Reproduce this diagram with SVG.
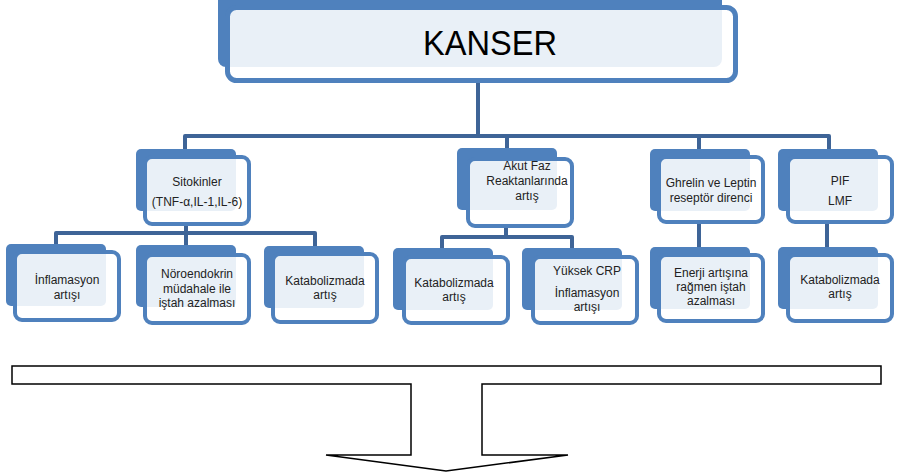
<svg xmlns="http://www.w3.org/2000/svg" width="897" height="476" viewBox="0 0 897 476">
<style>
.back{fill:#4F81BD;}
.front{fill:#FFFFFF;fill-opacity:0.88;stroke:#4F81BD;stroke-width:4;}
.conn{fill:none;stroke:#3E6497;stroke-width:4;stroke-linejoin:round;}
.t{font-family:"Liberation Sans",Arial,sans-serif;font-size:12px;fill:#222222;text-anchor:middle;}
.big{font-family:"Liberation Sans",Arial,sans-serif;font-size:35px;fill:#000000;text-anchor:middle;}
</style>
<rect width="897" height="476" fill="#FFFFFF"/>
<g id="connectors">
<path class="conn" d="M478,83 V136"/>
<path class="conn" d="M185,150 V136 H829 V150"/>
<path class="conn" d="M507,136 V150"/>
<path class="conn" d="M699,136 V150"/>
<path class="conn" d="M186,226 V246"/>
<path class="conn" d="M56,246 V233 H315 V246"/>
<path class="conn" d="M506,228 V237"/>
<path class="conn" d="M442,249 V237 H572 V249"/>
<path class="conn" d="M699,224 V248"/>
<path class="conn" d="M827,224 V248"/>
</g>
<g id="kanser">
<rect class="back" x="218" y="-10" width="504" height="77" rx="8"/>
<rect class="front" x="227.5" y="7.5" width="508" height="73" rx="9" style="stroke-width:5"/>
<text class="big" x="490" y="55" textLength="134" lengthAdjust="spacingAndGlyphs">KANSER</text>
</g>
<g id="sitokinler">
<rect class="back" x="136" y="149" width="100" height="62" rx="5"/>
<rect class="front" x="145" y="157" width="104" height="67" rx="7"/>
<text class="t" x="197" y="186">Sitokinler</text>
<text class="t" x="197" y="206">(TNF-α,IL-1,IL-6)</text>
</g>
<g id="akut">
<rect class="back" x="457" y="148" width="100" height="62" rx="5"/>
<rect class="front" x="468" y="159" width="104" height="67" rx="7"/>
<text class="t" x="527" y="170">Akut Faz</text>
<text class="t" x="527" y="185">Reaktanlarında</text>
<text class="t" x="527" y="200">artış</text>
</g>
<g id="ghrelin">
<rect class="back" x="650" y="149" width="100" height="62" rx="5"/>
<rect class="front" x="659" y="157" width="104" height="65" rx="7"/>
<text class="t" x="711" y="187">Ghrelin ve Leptin</text>
<text class="t" x="711" y="202">reseptör direnci</text>
</g>
<g id="pif">
<rect class="back" x="778" y="149" width="100" height="62" rx="5"/>
<rect class="front" x="788" y="157" width="104" height="65" rx="7"/>
<text class="t" x="840" y="185">PIF</text>
<text class="t" x="840" y="205">LMF</text>
</g>
<g id="inflamasyon">
<rect class="back" x="6" y="244" width="100" height="62" rx="5"/>
<rect class="front" x="15" y="252" width="104" height="68" rx="7"/>
<text class="t" x="67" y="284">İnflamasyon</text>
<text class="t" x="67" y="299">artışı</text>
</g>
<g id="noroendokrin">
<rect class="back" x="136" y="245" width="100" height="62" rx="5"/>
<rect class="front" x="145" y="255" width="104" height="68" rx="7"/>
<text class="t" x="197" y="278">Nöroendokrin</text>
<text class="t" x="197" y="293">müdahale ile</text>
<text class="t" x="197" y="307">iştah azalması</text>
</g>
<g id="katabolizma1">
<rect class="back" x="264" y="246" width="100" height="62" rx="5"/>
<rect class="front" x="273" y="254" width="104" height="68" rx="7"/>
<text class="t" x="325" y="285">Katabolizmada</text>
<text class="t" x="325" y="299">artış</text>
</g>
<g id="katabolizma2">
<rect class="back" x="393" y="248" width="100" height="62" rx="5"/>
<rect class="front" x="404" y="257" width="104" height="66" rx="7"/>
<text class="t" x="454" y="287">Katabolizmada</text>
<text class="t" x="454" y="301">artış</text>
</g>
<g id="yuksekcrp">
<rect class="back" x="522" y="248" width="100" height="62" rx="5"/>
<rect class="front" x="533" y="257" width="104" height="66" rx="7"/>
<text class="t" x="587" y="275">Yüksek CRP</text>
<text class="t" x="587" y="297">İnflamasyon</text>
<text class="t" x="587" y="311">artışı</text>
</g>
<g id="enerji">
<rect class="back" x="650" y="247" width="100" height="62" rx="5"/>
<rect class="front" x="659" y="255" width="104" height="66" rx="7"/>
<text class="t" x="711" y="277">Enerji artışına</text>
<text class="t" x="711" y="291">rağmen iştah</text>
<text class="t" x="711" y="305">azalması</text>
</g>
<g id="katabolizma3">
<rect class="back" x="778" y="247" width="100" height="62" rx="5"/>
<rect class="front" x="788" y="255" width="104" height="66" rx="7"/>
<text class="t" x="840" y="284">Katabolizmada</text>
<text class="t" x="840" y="298">artış</text>
</g>
<g id="arrow">
<path d="M12,366 H881 V384 H482 V455 H568 L446,471 L326,455 H411 V384 H12 Z" fill="#FFFFFF" stroke="#000000" stroke-width="1.5"/>
</g>
</svg>
